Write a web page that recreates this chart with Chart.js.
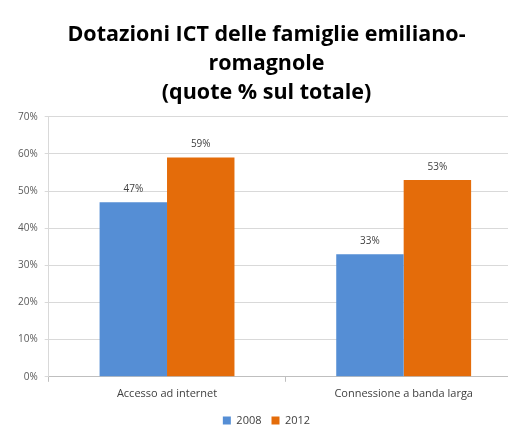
<!DOCTYPE html>
<html><head><meta charset="utf-8">
<script src="https://cdn.jsdelivr.net/npm/chart.js@4"></script>
<style>html,body{margin:0;padding:0;background:#fff;overflow:hidden;width:508px;height:427px}
#wrap{width:522px;height:427px;position:relative}</style>
</head><body><div id="wrap"><canvas id="c"></canvas></div>
<script>
const titleLines = ['Dotazioni ICT delle famiglie emiliano-', 'romagnole', '(quote % sul totale)'];
const categories = ['Accesso ad internet', 'Connessione a banda larga'];
const seriesNames = ['2008', '2012'];
const values2008 = [47, 33];
const values2012 = [59, 53];
const yTicks = [0, 10, 20, 30, 40, 50, 60, 70];

const labelPlugin = {
  id: 'labels',
  afterDatasetsDraw(chart) {
    const ctx = chart.ctx;
    ctx.save();
    ctx.font = '10px "Open Sans", sans-serif';
    ctx.fillStyle = '#404040';
    ctx.textAlign = 'center';
    ctx.textBaseline = 'middle';
    chart.data.datasets.forEach((ds, i) => {
      chart.getDatasetMeta(i).data.forEach((bar, j) => {
        ctx.fillText(ds.data[j] + '%', bar.x, bar.y - 13);
      });
    });
    ctx.restore();
  }
};

new Chart(document.getElementById('c'), {
  type: 'bar',
  data: {
    labels: categories,
    datasets: [
      { label: seriesNames[0], data: values2008, backgroundColor: '#558ed5' },
      { label: seriesNames[1], data: values2012, backgroundColor: '#e46c0a' }
    ]
  },
  options: {
    responsive: true,
    maintainAspectRatio: false,
    animation: false,
    layout: { padding: { left: 11, right: 0, top: 10, bottom: -9 } },
    datasets: { bar: { categoryPercentage: 0.57, barPercentage: 1 } },
    plugins: {
      title: {
        display: true,
        text: titleLines,
        color: '#000',
        font: { family: '"Open Sans"', size: 21.5, weight: 'bold', lineHeight: 1.36 },
        padding: { top: 10, bottom: 9 }
      },
      legend: {
        position: 'bottom',
        labels: {
          boxWidth: 8, boxHeight: 8, padding: 10,
          color: '#404040',
          font: { family: '"Open Sans"', size: 11 }
        }
      },
      tooltip: { enabled: false }
    },
    scales: {
      x: {
        grid: { display: true, drawOnChartArea: false, offset: true, color: '#bfbfbf', tickLength: 5 },
        border: { color: '#bfbfbf' },
        ticks: { color: '#404040', font: { family: '"Open Sans"', size: 11 }, padding: 5 }
      },
      y: {
        min: 0, max: 70,
        afterBuildTicks(axis) { axis.ticks = yTicks.map(v => ({ value: v })); },
        grid: { color: '#d9d9d9', tickLength: 4 },
        border: { color: '#d9d9d9' },
        ticks: { color: '#595959', font: { family: '"Open Sans"', size: 10 }, padding: 7, callback: v => v + '%' }
      }
    }
  },
  plugins: [labelPlugin]
});
</script></body></html>
